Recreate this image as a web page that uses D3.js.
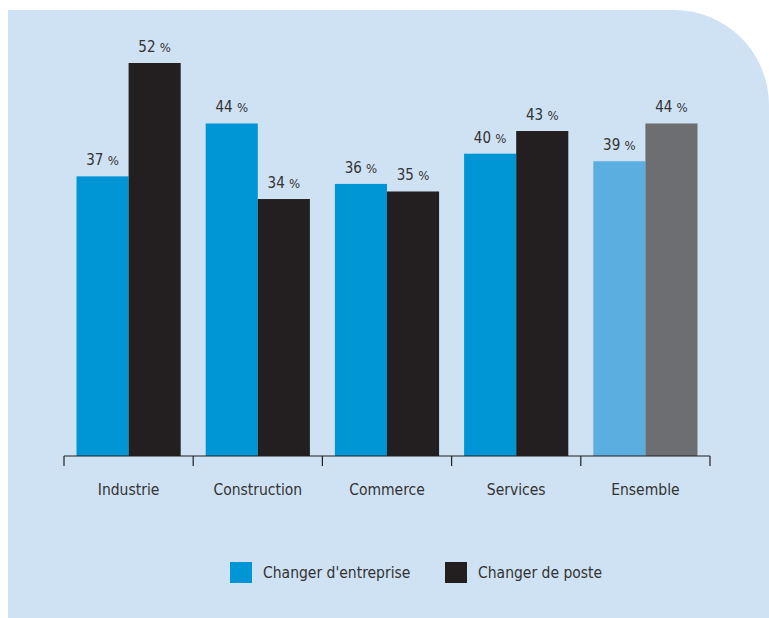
<!DOCTYPE html>
<meta charset="utf-8">
<style>
  body { margin: 0; background: #fff; }
  text { font-family: "DejaVu Sans Condensed", "Liberation Sans Narrow", sans-serif; fill: #333; }
</style>
<svg width="769" height="618"></svg>
<script src="https://cdn.jsdelivr.net/npm/d3@7"></script>
<script>

var categories = ["Industrie", "Construction", "Commerce", "Services", "Ensemble"];
var series = ["Changer d'entreprise", "Changer de poste"];
var entreprise = [37, 44, 36, 40, 39];
var poste = [52, 34, 35, 43, 44];

var svg = d3.select("svg"),
    width = +svg.attr("width"),
    height = +svg.attr("height");

// panel with rounded top-right corner
var px = 8, py = 10, r = 95;
svg.append("path")
    .attr("d", "M" + px + "," + py + "H" + (width - r) +
      "A" + r + "," + r + " 0 0 1 " + width + "," + (py + r) +
      "V" + height + "H" + px + "Z")
    .attr("fill", "#cfe2f4");

var x = d3.scaleBand().domain(categories).range([64, 710]).paddingInner(0).paddingOuter(0);
var x1 = d3.scaleBand().domain(series).range([0, x.bandwidth()]).paddingOuter(0.24);
var y = d3.scaleLinear().domain([0, 52]).range([456, 63]);

var colors = {
  normal: ["#0096d6", "#231f20"],
  total: ["#5aaee0", "#6d6e71"]
};

var rows = categories.map(function(c, i) {
  return { cat: c, values: [entreprise[i], poste[i]] };
});

var g = svg.selectAll(".grp").data(rows).enter().append("g")
    .attr("transform", function(d) { return "translate(" + x(d.cat) + ",0)"; });

g.selectAll("rect").data(function(d) {
    return d.values.map(function(v, j) { return { v: v, s: series[j], j: j, cat: d.cat }; });
  }).enter().append("rect")
    .attr("x", function(d) { return x1(d.s); })
    .attr("width", x1.bandwidth())
    .attr("y", function(d) { return y(d.v); })
    .attr("height", function(d) { return y(0) - y(d.v); })
    .attr("fill", function(d) { return (d.cat === "Ensemble" ? colors.total : colors.normal)[d.j]; });

var lbl = g.selectAll("text").data(function(d) {
    return d.values.map(function(v, j) { return { v: v, s: series[j] }; });
  }).enter().append("text")
    .attr("x", function(d) { return x1(d.s) + x1.bandwidth() / 2; })
    .attr("y", function(d) { return y(d.v) - 11; })
    .attr("text-anchor", "middle")
    .style("font-size", "15px");
lbl.append("tspan").text(function(d) { return d.v + " "; });
lbl.append("tspan").style("font-size", "13px").text("%");

// axis
var axis = d3.axisBottom(x).tickSize(0).tickPadding(28);
var ag = svg.append("g").attr("transform", "translate(0,456)").call(axis);
ag.select(".domain").attr("stroke", "#231f20").attr("stroke-width", 1.2)
    .attr("d", "M64,0H710");
ag.selectAll(".tick text").style("font-size", "15.5px").attr("fill", "#333")
    .style("font-family", "DejaVu Sans Condensed, Liberation Sans Narrow, sans-serif");

var bounds = x.domain().map(function(c) { return x(c); }).concat([710]);
ag.selectAll(".sep").data(bounds).enter().append("line")
    .attr("x1", function(d) { return d; }).attr("x2", function(d) { return d; })
    .attr("y1", 0).attr("y2", 10)
    .attr("stroke", "#231f20").attr("stroke-width", 1.2);

// legend
var legendX = [230, 445];
var lg = svg.selectAll(".leg").data(series).enter().append("g")
    .attr("transform", function(d, i) { return "translate(" + legendX[i] + ",562)"; });
lg.append("rect").attr("width", 22).attr("height", 21)
    .attr("fill", function(d, i) { return colors.normal[i]; });
lg.append("text").attr("x", 33).attr("y", 16).style("font-size", "15.5px")
    .text(function(d) { return d; });

</script>
